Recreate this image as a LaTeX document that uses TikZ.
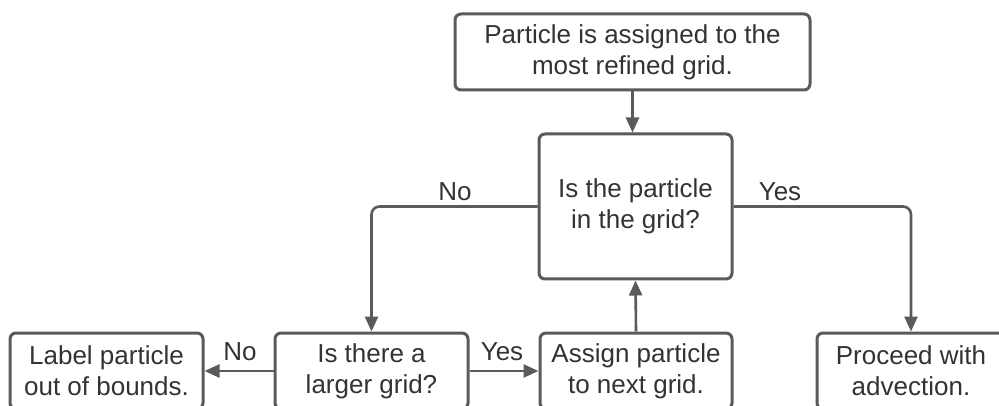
\documentclass[tikz,border=0pt]{standalone}
\usepackage{fontspec}
\setmainfont{Liberation Sans}
\usetikzlibrary{arrows.meta}
\definecolor{linegray}{HTML}{5A5A5A}
\definecolor{textgray}{HTML}{333333}
\begin{document}
\begin{tikzpicture}[x=1pt,y=-1pt,
  box/.style={draw=linegray, line width=3pt, rounded corners=6pt, align=center,
    inner sep=0pt, text=textgray, font=\fontsize{26}{31}\selectfont},
  conn/.style={draw=linegray, line width=2.6pt, rounded corners=8pt,
    -{Triangle[length=15pt,width=13pt]}},
  lbl/.style={text=textgray, font=\fontsize{26}{31}\selectfont, inner sep=0pt}]
\useasboundingbox (0,0) rectangle (999,406);
\clip (0,0) rectangle (999,406);
\fill[white] (0,0) rectangle (999,406);
\node[box, minimum width=355pt, minimum height=76pt] (top) at (632.5,52) {Particle is assigned to the\\most refined grid.};
\node[box, minimum width=193pt, minimum height=145pt] (ctr) at (635.5,206.5) {Is the particle\\in the grid?};
\node[box, minimum width=193pt, minimum height=76pt] (lab) at (106.5,371) {Label particle\\out of bounds.};
\node[box, minimum width=193pt, minimum height=76pt] (isl) at (371.5,371) {Is there a\\larger grid?};
\node[box, minimum width=192pt, minimum height=76pt] (asg) at (636,371) {Assign particle\\to next grid.};
\node[box, minimum width=188pt, minimum height=76pt] (prc) at (911,371) {Proceed with\\advection.};
\draw[conn] (top.south -| 632.5,0) -- (ctr.north -| 632.5,0);
\draw[conn] (ctr.west) -| (isl.north);
\draw[conn] (ctr.east) -| (prc.north);
\draw[conn] (isl.west) -- (lab.east);
\draw[conn] (isl.east) -- (asg.west);
\draw[conn] (asg.north) -- (ctr.south);
\node[lbl] (no1) at (455,192) {No};
\node[lbl] (yes1) at (780,192) {Yes};
\node[lbl] (no2) at (240,352) {No};
\node[lbl] (yes2) at (502,352) {Yes};
\end{tikzpicture}
\end{document}
